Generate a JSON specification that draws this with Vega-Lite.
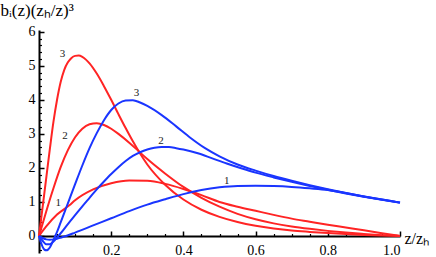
{
  "$schema": "https://vega.github.io/schema/vega-lite/v6.json",
  "width": 361,
  "height": 223,
  "autosize": {"type": "none"},
  "padding": {"left": 39, "top": 30, "right": 36, "bottom": 4},
  "config": {"view": {"stroke": null}, "font": "Liberation Serif", "axis": {"grid": false}},
  "datasets": {
    "curves": [
      {"f":"red","n":1,"x":0,"y":0},{"f":"red","n":1,"x":0.02,"y":0.28},{"f":"red","n":1,"x":0.05,"y":0.63},{"f":"red","n":1,"x":0.084,"y":0.9},{"f":"red","n":1,"x":0.1,"y":1.05},{"f":"red","n":1,"x":0.15,"y":1.37},{"f":"red","n":1,"x":0.2,"y":1.55},{"f":"red","n":1,"x":0.25,"y":1.63},{"f":"red","n":1,"x":0.3,"y":1.62},{"f":"red","n":1,"x":0.35,"y":1.53},{"f":"red","n":1,"x":0.4,"y":1.38},{"f":"red","n":1,"x":0.45,"y":1.2},{"f":"red","n":1,"x":0.5,"y":1.0},{"f":"red","n":1,"x":0.55,"y":0.86},{"f":"red","n":1,"x":0.6,"y":0.74},{"f":"red","n":1,"x":0.65,"y":0.62},{"f":"red","n":1,"x":0.7,"y":0.51},{"f":"red","n":1,"x":0.75,"y":0.42},{"f":"red","n":1,"x":0.8,"y":0.33},{"f":"red","n":1,"x":0.85,"y":0.25},{"f":"red","n":1,"x":0.9,"y":0.17},{"f":"red","n":1,"x":0.95,"y":0.08},{"f":"red","n":1,"x":1.0,"y":0},
      {"f":"red","n":2,"x":0,"y":0},{"f":"red","n":2,"x":0.02,"y":0.72},{"f":"red","n":2,"x":0.04,"y":1.4},{"f":"red","n":2,"x":0.06,"y":2.02},{"f":"red","n":2,"x":0.08,"y":2.52},{"f":"red","n":2,"x":0.1,"y":2.9},{"f":"red","n":2,"x":0.12,"y":3.15},{"f":"red","n":2,"x":0.14,"y":3.28},{"f":"red","n":2,"x":0.16,"y":3.31},{"f":"red","n":2,"x":0.18,"y":3.26},{"f":"red","n":2,"x":0.2,"y":3.15},{"f":"red","n":2,"x":0.22,"y":3.0},{"f":"red","n":2,"x":0.25,"y":2.74},{"f":"red","n":2,"x":0.275,"y":2.5},{"f":"red","n":2,"x":0.3,"y":2.26},{"f":"red","n":2,"x":0.35,"y":1.83},{"f":"red","n":2,"x":0.4,"y":1.44},{"f":"red","n":2,"x":0.45,"y":1.12},{"f":"red","n":2,"x":0.5,"y":0.86},{"f":"red","n":2,"x":0.55,"y":0.65},{"f":"red","n":2,"x":0.6,"y":0.49},{"f":"red","n":2,"x":0.65,"y":0.37},{"f":"red","n":2,"x":0.7,"y":0.28},{"f":"red","n":2,"x":0.75,"y":0.21},{"f":"red","n":2,"x":0.8,"y":0.15},{"f":"red","n":2,"x":0.85,"y":0.1},{"f":"red","n":2,"x":0.9,"y":0.06},{"f":"red","n":2,"x":0.95,"y":0.025},{"f":"red","n":2,"x":1.0,"y":0},
      {"f":"red","n":3,"x":0,"y":0},{"f":"red","n":3,"x":0.01,"y":0.85},{"f":"red","n":3,"x":0.02,"y":1.7},{"f":"red","n":3,"x":0.03,"y":2.55},{"f":"red","n":3,"x":0.04,"y":3.35},{"f":"red","n":3,"x":0.05,"y":4.0},{"f":"red","n":3,"x":0.06,"y":4.52},{"f":"red","n":3,"x":0.07,"y":4.88},{"f":"red","n":3,"x":0.08,"y":5.1},{"f":"red","n":3,"x":0.09,"y":5.23},{"f":"red","n":3,"x":0.1,"y":5.29},{"f":"red","n":3,"x":0.11,"y":5.3},{"f":"red","n":3,"x":0.12,"y":5.26},{"f":"red","n":3,"x":0.13,"y":5.18},{"f":"red","n":3,"x":0.14,"y":5.07},{"f":"red","n":3,"x":0.16,"y":4.77},{"f":"red","n":3,"x":0.18,"y":4.4},{"f":"red","n":3,"x":0.2,"y":4.0},{"f":"red","n":3,"x":0.22,"y":3.58},{"f":"red","n":3,"x":0.24,"y":3.17},{"f":"red","n":3,"x":0.26,"y":2.78},{"f":"red","n":3,"x":0.28,"y":2.42},{"f":"red","n":3,"x":0.3,"y":2.1},{"f":"red","n":3,"x":0.35,"y":1.5},{"f":"red","n":3,"x":0.4,"y":1.07},{"f":"red","n":3,"x":0.45,"y":0.77},{"f":"red","n":3,"x":0.5,"y":0.56},{"f":"red","n":3,"x":0.55,"y":0.41},{"f":"red","n":3,"x":0.6,"y":0.3},{"f":"red","n":3,"x":0.65,"y":0.22},{"f":"red","n":3,"x":0.7,"y":0.16},{"f":"red","n":3,"x":0.75,"y":0.12},{"f":"red","n":3,"x":0.8,"y":0.085},{"f":"red","n":3,"x":0.85,"y":0.055},{"f":"red","n":3,"x":0.9,"y":0.03},{"f":"red","n":3,"x":0.95,"y":0.012},{"f":"red","n":3,"x":1.0,"y":0},
      {"f":"blue","n":1,"x":0,"y":0},{"f":"blue","n":1,"x":0.01,"y":-0.06},{"f":"blue","n":1,"x":0.02,"y":-0.1},{"f":"blue","n":1,"x":0.03,"y":-0.11},{"f":"blue","n":1,"x":0.04,"y":-0.1},{"f":"blue","n":1,"x":0.05,"y":-0.08},{"f":"blue","n":1,"x":0.06,"y":-0.05},{"f":"blue","n":1,"x":0.075,"y":0},{"f":"blue","n":1,"x":0.1,"y":0.1},{"f":"blue","n":1,"x":0.15,"y":0.31},{"f":"blue","n":1,"x":0.2,"y":0.52},{"f":"blue","n":1,"x":0.25,"y":0.73},{"f":"blue","n":1,"x":0.3,"y":0.92},{"f":"blue","n":1,"x":0.35,"y":1.08},{"f":"blue","n":1,"x":0.4,"y":1.23},{"f":"blue","n":1,"x":0.45,"y":1.35},{"f":"blue","n":1,"x":0.5,"y":1.43},{"f":"blue","n":1,"x":0.55,"y":1.47},{"f":"blue","n":1,"x":0.6,"y":1.475},{"f":"blue","n":1,"x":0.65,"y":1.465},{"f":"blue","n":1,"x":0.7,"y":1.44},{"f":"blue","n":1,"x":0.75,"y":1.4},{"f":"blue","n":1,"x":0.8,"y":1.35},{"f":"blue","n":1,"x":0.85,"y":1.26},{"f":"blue","n":1,"x":0.9,"y":1.16},{"f":"blue","n":1,"x":0.95,"y":1.07},{"f":"blue","n":1,"x":1.0,"y":0.98},
      {"f":"blue","n":2,"x":0,"y":0},{"f":"blue","n":2,"x":0.01,"y":-0.14},{"f":"blue","n":2,"x":0.02,"y":-0.24},{"f":"blue","n":2,"x":0.03,"y":-0.24},{"f":"blue","n":2,"x":0.04,"y":-0.16},{"f":"blue","n":2,"x":0.05,"y":-0.04},{"f":"blue","n":2,"x":0.06,"y":0.08},{"f":"blue","n":2,"x":0.08,"y":0.35},{"f":"blue","n":2,"x":0.1,"y":0.61},{"f":"blue","n":2,"x":0.12,"y":0.87},{"f":"blue","n":2,"x":0.14,"y":1.12},{"f":"blue","n":2,"x":0.16,"y":1.37},{"f":"blue","n":2,"x":0.18,"y":1.6},{"f":"blue","n":2,"x":0.2,"y":1.82},{"f":"blue","n":2,"x":0.22,"y":2.02},{"f":"blue","n":2,"x":0.24,"y":2.2},{"f":"blue","n":2,"x":0.26,"y":2.35},{"f":"blue","n":2,"x":0.28,"y":2.46},{"f":"blue","n":2,"x":0.3,"y":2.54},{"f":"blue","n":2,"x":0.32,"y":2.59},{"f":"blue","n":2,"x":0.34,"y":2.61},{"f":"blue","n":2,"x":0.36,"y":2.61},{"f":"blue","n":2,"x":0.38,"y":2.58},{"f":"blue","n":2,"x":0.4,"y":2.54},{"f":"blue","n":2,"x":0.44,"y":2.43},{"f":"blue","n":2,"x":0.48,"y":2.28},{"f":"blue","n":2,"x":0.52,"y":2.13},{"f":"blue","n":2,"x":0.56,"y":1.99},{"f":"blue","n":2,"x":0.6,"y":1.86},{"f":"blue","n":2,"x":0.65,"y":1.72},{"f":"blue","n":2,"x":0.7,"y":1.59},{"f":"blue","n":2,"x":0.75,"y":1.47},{"f":"blue","n":2,"x":0.8,"y":1.36},{"f":"blue","n":2,"x":0.85,"y":1.25},{"f":"blue","n":2,"x":0.9,"y":1.15},{"f":"blue","n":2,"x":0.95,"y":1.06},{"f":"blue","n":2,"x":1.0,"y":0.98},
      {"f":"blue","n":3,"x":0,"y":0},{"f":"blue","n":3,"x":0.005,"y":-0.18},{"f":"blue","n":3,"x":0.01,"y":-0.32},{"f":"blue","n":3,"x":0.015,"y":-0.4},{"f":"blue","n":3,"x":0.02,"y":-0.42},{"f":"blue","n":3,"x":0.025,"y":-0.4},{"f":"blue","n":3,"x":0.03,"y":-0.34},{"f":"blue","n":3,"x":0.035,"y":-0.24},{"f":"blue","n":3,"x":0.04,"y":-0.12},{"f":"blue","n":3,"x":0.045,"y":0.0},{"f":"blue","n":3,"x":0.05,"y":0.12},{"f":"blue","n":3,"x":0.06,"y":0.4},{"f":"blue","n":3,"x":0.07,"y":0.68},{"f":"blue","n":3,"x":0.08,"y":0.96},{"f":"blue","n":3,"x":0.1,"y":1.52},{"f":"blue","n":3,"x":0.12,"y":2.07},{"f":"blue","n":3,"x":0.14,"y":2.58},{"f":"blue","n":3,"x":0.16,"y":3.02},{"f":"blue","n":3,"x":0.18,"y":3.4},{"f":"blue","n":3,"x":0.2,"y":3.7},{"f":"blue","n":3,"x":0.22,"y":3.89},{"f":"blue","n":3,"x":0.24,"y":3.98},{"f":"blue","n":3,"x":0.26,"y":3.99},{"f":"blue","n":3,"x":0.28,"y":3.92},{"f":"blue","n":3,"x":0.3,"y":3.82},{"f":"blue","n":3,"x":0.34,"y":3.55},{"f":"blue","n":3,"x":0.38,"y":3.22},{"f":"blue","n":3,"x":0.42,"y":2.88},{"f":"blue","n":3,"x":0.46,"y":2.58},{"f":"blue","n":3,"x":0.5,"y":2.34},{"f":"blue","n":3,"x":0.55,"y":2.1},{"f":"blue","n":3,"x":0.6,"y":1.92},{"f":"blue","n":3,"x":0.65,"y":1.76},{"f":"blue","n":3,"x":0.7,"y":1.62},{"f":"blue","n":3,"x":0.75,"y":1.49},{"f":"blue","n":3,"x":0.8,"y":1.37},{"f":"blue","n":3,"x":0.85,"y":1.26},{"f":"blue","n":3,"x":0.9,"y":1.16},{"f":"blue","n":3,"x":0.95,"y":1.07},{"f":"blue","n":3,"x":1.0,"y":0.98}
    ],
    "labels": [
      {"t":"3","x":0.065,"y":5.35},
      {"t":"2","x":0.072,"y":2.95},
      {"t":"1","x":0.053,"y":0.97},
      {"t":"3","x":0.27,"y":4.2},
      {"t":"2","x":0.338,"y":2.78},
      {"t":"1","x":0.52,"y":1.62}
    ]
  },
  "layer": [
    {
      "data": {"name": "curves"},
      "mark": {"type": "line", "interpolate": "monotone", "strokeWidth": 2},
      "encoding": {
        "x": {
          "field": "x", "type": "quantitative",
          "scale": {"domain": [0, 1], "nice": false, "zero": false},
          "axis": {
            "orient": "bottom", "offset": -17,
            "values": [0.2, 0.4, 0.6, 0.8, 1.0], "format": ".1f",
            "tickSize": -5, "tickWidth": 1.5, "tickColor": "black",
            "domainColor": "black", "domainWidth": 2,
            "labelFontSize": 14, "labelColor": "black", "labelFont": "Liberation Serif", "labelPadding": 12,
            "title": "z/zₕ", "titleX": 365, "titleY": 7, "titleAlign": "left", "titleBaseline": "alphabetic",
            "titleAngle": 0, "titleFontSize": 16, "titleFontWeight": "normal", "titleFont": "Liberation Serif", "titleColor": "black"
          }
        },
        "y": {
          "field": "y", "type": "quantitative",
          "scale": {"domain": [-0.5, 6.05], "nice": false, "zero": false},
          "axis": {
            "orient": "left",
            "values": [0, 1, 2, 3, 4, 5, 6], "format": "d",
            "tickSize": -5, "tickWidth": 1.5, "tickColor": "black",
            "domainColor": "black", "domainWidth": 2,
            "labelFontSize": 14, "labelColor": "black", "labelFont": "Liberation Serif", "labelPadding": 9,
            "title": "bᵢ(z)(zₕ/z)³", "titleX": -39, "titleY": -15, "titleAlign": "left", "titleBaseline": "alphabetic",
            "titleAngle": 0, "titleFontSize": 17, "titleFontWeight": "normal", "titleFont": "Liberation Serif", "titleColor": "black"
          }
        },
        "color": {"field": "f", "type": "nominal", "scale": {"domain": ["red", "blue"], "range": ["#ff2424", "#1a35ff"]}, "legend": null},
        "detail": {"field": "n"}
      }
    },
    {
      "data": {"name": "labels"},
      "mark": {"type": "text", "fontSize": 11, "font": "Liberation Serif", "color": "#222222"},
      "encoding": {
        "x": {
          "field": "x", "type": "quantitative",
          "scale": {"domain": [0, 1], "nice": false, "zero": false},
          "axis": {
            "orient": "bottom", "offset": -17,
            "values": [0.05, 0.1, 0.15, 0.25, 0.3, 0.35, 0.45, 0.5, 0.55, 0.65, 0.7, 0.75, 0.85, 0.9, 0.95],
            "labels": false, "domain": false, "tickSize": -2.5, "tickWidth": 1.2, "tickColor": "black", "title": null
          }
        },
        "y": {
          "field": "y", "type": "quantitative",
          "scale": {"domain": [-0.5, 6.05], "nice": false, "zero": false},
          "axis": {
            "orient": "left",
            "values": [-0.4, -0.2, 0.2, 0.4, 0.6, 0.8, 1.2, 1.4, 1.6, 1.8, 2.2, 2.4, 2.6, 2.8, 3.2, 3.4, 3.6, 3.8, 4.2, 4.4, 4.6, 4.8, 5.2, 5.4, 5.6, 5.8],
            "labels": false, "domain": false, "tickSize": -2.5, "tickWidth": 1.2, "tickColor": "black", "title": null
          }
        },
        "text": {"field": "t"}
      }
    }
  ],
  "resolve": {"axis": {"x": "independent", "y": "independent"}}
}
